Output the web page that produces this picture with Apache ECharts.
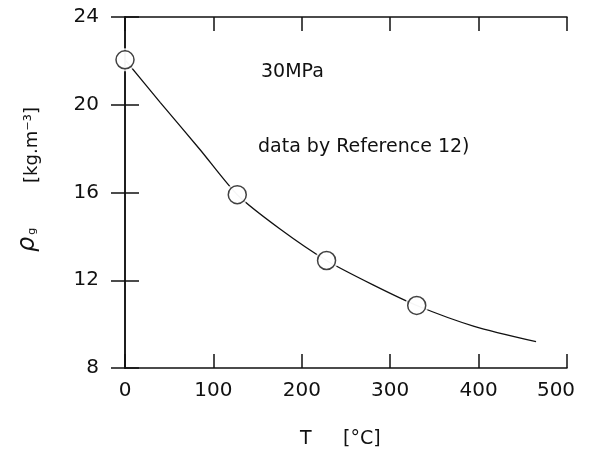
<!DOCTYPE html>
<html>
<head>
<meta charset="utf-8">
<script src="https://cdn.jsdelivr.net/npm/echarts@6/dist/echarts.min.js"></script>
<style>
  html, body { margin: 0; padding: 0; background: #fff; }
  #chart { width: 595px; height: 461px; }
</style>
</head>
<body>
<div id="chart"></div>
<script>
// Gas density at 30 MPa versus temperature
const measuredT = [0, 127, 228, 330];          // °C
const measuredRho = [22.05, 15.9, 12.9, 10.85]; // kg·m^-3

// Smooth fitted curve through the data
const curveT = [0, 40, 85, 127, 175, 228, 280, 330, 395, 465];
const curveRho = [22.05, 20.1, 17.95, 15.9, 14.35, 12.9, 11.8, 10.85, 9.9, 9.2];

const xTicks = [0, 100, 200, 300, 400, 500];
const yTicks = [8, 12, 16, 20, 24];

const FONT = 'DejaVu Sans';
const INK = '#111';

const chart = echarts.init(document.getElementById('chart'), null, { renderer: 'canvas' });

const frameLine = { show: true, lineStyle: { color: INK, width: 1.5 } };
const innerTick = { show: true, inside: true, length: 14, lineStyle: { color: INK, width: 1.5 } };

chart.setOption({
  animation: false,
  backgroundColor: '#fff',
  grid: { left: 125, top: 17, width: 442, height: 351, containLabel: false },
  xAxis: [
    {
      type: 'value', position: 'bottom',
      min: xTicks[0], max: xTicks[xTicks.length - 1], interval: 100,
      axisLine: frameLine, axisTick: innerTick, splitLine: { show: false },
      axisLabel: {
        margin: 13, color: INK, fontFamily: FONT, fontSize: 20,
        formatter: v => (v === 500 ? '{last|' + v + '}' : String(v)),
        rich: { last: { fontFamily: FONT, fontSize: 20, color: INK, padding: [0, 22, 0, 0] } }
      }
    },
    {
      type: 'value', position: 'top',
      min: xTicks[0], max: xTicks[xTicks.length - 1], interval: 100,
      axisLine: frameLine, axisTick: innerTick, axisLabel: { show: false }, splitLine: { show: false }
    }
  ],
  yAxis: [
    {
      type: 'value', position: 'left',
      min: yTicks[0], max: yTicks[yTicks.length - 1], interval: 4,
      axisLine: frameLine, axisTick: innerTick, splitLine: { show: false },
      axisLabel: { margin: 26, color: INK, fontFamily: FONT, fontSize: 20 }
    },
    {
      type: 'value', position: 'right',
      min: yTicks[0], max: yTicks[yTicks.length - 1], interval: 4,
      axisLine: frameLine, axisTick: innerTick, axisLabel: { show: false }, splitLine: { show: false }
    }
  ],
  series: [
    {
      type: 'line', smooth: 0.25, showSymbol: false, silent: true, z: 2,
      data: curveT.map((t, i) => [t, curveRho[i]]),
      lineStyle: { color: INK, width: 1.3 }
    },
    {
      // white halo so the curve stops just short of each marker
      type: 'scatter', symbol: 'circle', symbolSize: 23, silent: true, z: 3,
      data: measuredT.map((t, i) => [t, measuredRho[i]]),
      itemStyle: { color: '#fff', borderWidth: 0 }
    },
    {
      type: 'scatter', symbol: 'circle', symbolSize: 18, silent: true, z: 4,
      data: measuredT.map((t, i) => [t, measuredRho[i]]),
      itemStyle: { color: '#fff', borderColor: INK, borderWidth: 1.5 }
    }
  ],
  graphic: [
    {
      type: 'text', left: 261, top: 63,
      style: { text: '30MPa', font: '19px "' + FONT + '"', fill: INK }
    },
    {
      type: 'text', left: 258, top: 138,
      style: { text: 'data by Reference 12)', font: '19px "' + FONT + '"', fill: INK }
    },
    {
      type: 'text', x: 32, y: 145, rotation: Math.PI / 2,
      style: {
        text: '[kg.m\u207B\u00B3]', font: '18px "' + FONT + '"', fill: INK,
        align: 'center', verticalAlign: 'middle'
      }
    },
    {
      type: 'text', x: 28, y: 240, rotation: Math.PI / 2,
      style: {
        text: '{r|ρ}{g|g}', fill: INK, align: 'center', verticalAlign: 'middle',
        rich: {
          r: { fontFamily: FONT, fontSize: 24, fontStyle: 'italic', fill: INK },
          g: { fontFamily: FONT, fontSize: 11, fill: INK, padding: [8, 0, 0, 2] }
        }
      }
    },
    {
      type: 'text', left: 300, top: 430,
      style: { text: 'T', font: '19px "' + FONT + '"', fill: INK }
    },
    {
      type: 'text', left: 343, top: 430,
      style: { text: '[°C]', font: '19px "' + FONT + '"', fill: INK }
    }
  ]
});
</script>
</body>
</html>
